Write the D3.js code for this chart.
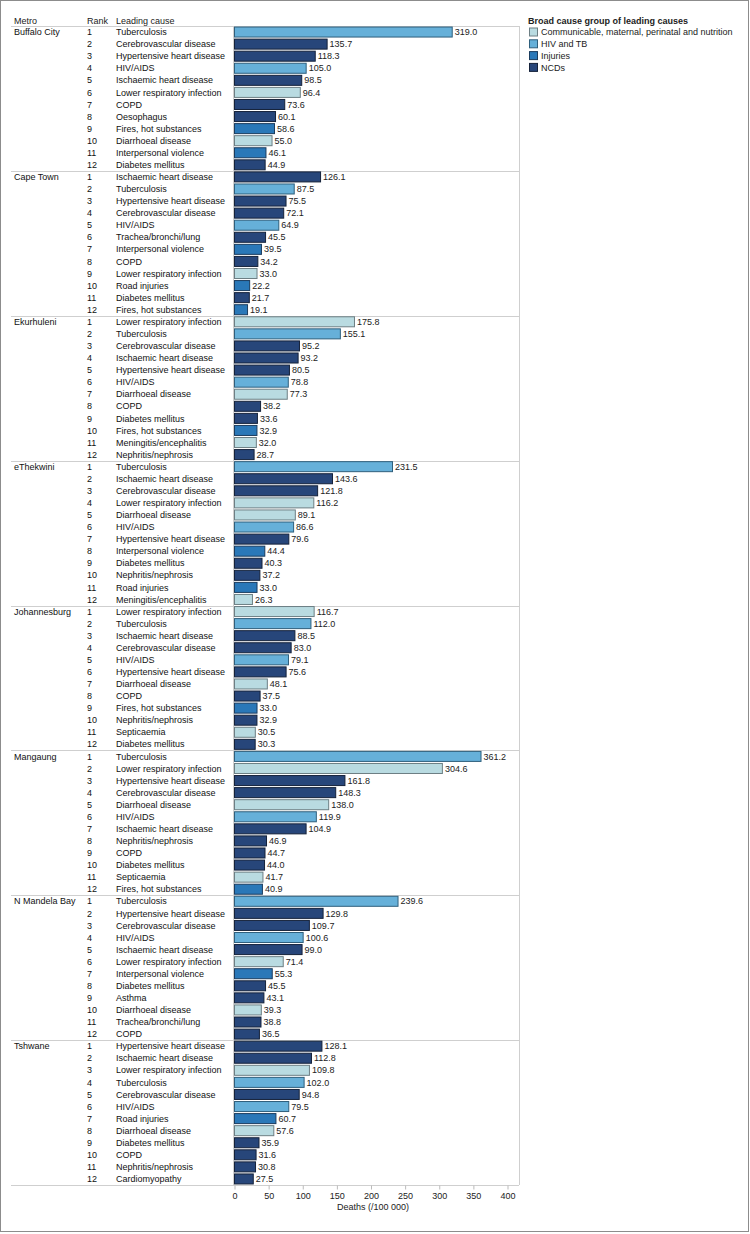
<!DOCTYPE html>
<html>
<head>
<meta charset="utf-8">
<script src="https://cdn.jsdelivr.net/npm/d3@7"></script>
<style>
  html, body { margin: 0; padding: 0; background: #fff; }
  svg { display: block; font-family: "Liberation Sans", Arial, sans-serif; }
</style>
</head>
<body>
<div id="viz"></div>
<script>
// metros, in display order
const metros = ['Buffalo City','Cape Town','Ekurhuleni','eThekwini','Johannesburg','Mangaung','N Mandela Bay','Tshwane'];

// leading causes per metro (rank 1..12)
const causes = [
  ['Tuberculosis','Cerebrovascular disease','Hypertensive heart disease','HIV/AIDS','Ischaemic heart disease','Lower respiratory infection','COPD','Oesophagus','Fires, hot substances','Diarrhoeal disease','Interpersonal violence','Diabetes mellitus'],
  ['Ischaemic heart disease','Tuberculosis','Hypertensive heart disease','Cerebrovascular disease','HIV/AIDS','Trachea/bronchi/lung','Interpersonal violence','COPD','Lower respiratory infection','Road injuries','Diabetes mellitus','Fires, hot substances'],
  ['Lower respiratory infection','Tuberculosis','Cerebrovascular disease','Ischaemic heart disease','Hypertensive heart disease','HIV/AIDS','Diarrhoeal disease','COPD','Diabetes mellitus','Fires, hot substances','Meningitis/encephalitis','Nephritis/nephrosis'],
  ['Tuberculosis','Ischaemic heart disease','Cerebrovascular disease','Lower respiratory infection','Diarrhoeal disease','HIV/AIDS','Hypertensive heart disease','Interpersonal violence','Diabetes mellitus','Nephritis/nephrosis','Road injuries','Meningitis/encephalitis'],
  ['Lower respiratory infection','Tuberculosis','Ischaemic heart disease','Cerebrovascular disease','HIV/AIDS','Hypertensive heart disease','Diarrhoeal disease','COPD','Fires, hot substances','Nephritis/nephrosis','Septicaemia','Diabetes mellitus'],
  ['Tuberculosis','Lower respiratory infection','Hypertensive heart disease','Cerebrovascular disease','Diarrhoeal disease','HIV/AIDS','Ischaemic heart disease','Nephritis/nephrosis','COPD','Diabetes mellitus','Septicaemia','Fires, hot substances'],
  ['Tuberculosis','Hypertensive heart disease','Cerebrovascular disease','HIV/AIDS','Ischaemic heart disease','Lower respiratory infection','Interpersonal violence','Diabetes mellitus','Asthma','Diarrhoeal disease','Trachea/bronchi/lung','COPD'],
  ['Hypertensive heart disease','Ischaemic heart disease','Lower respiratory infection','Tuberculosis','Cerebrovascular disease','HIV/AIDS','Road injuries','Diarrhoeal disease','Diabetes mellitus','COPD','Nephritis/nephrosis','Cardiomyopathy']
];

// deaths per 100 000
const deaths = [
  [319.0,135.7,118.3,105.0,98.5,96.4,73.6,60.1,58.6,55.0,46.1,44.9],
  [126.1,87.5,75.5,72.1,64.9,45.5,39.5,34.2,33.0,22.2,21.7,19.1],
  [175.8,155.1,95.2,93.2,80.5,78.8,77.3,38.2,33.6,32.9,32.0,28.7],
  [231.5,143.6,121.8,116.2,89.1,86.6,79.6,44.4,40.3,37.2,33.0,26.3],
  [116.7,112.0,88.5,83.0,79.1,75.6,48.1,37.5,33.0,32.9,30.5,30.3],
  [361.2,304.6,161.8,148.3,138.0,119.9,104.9,46.9,44.7,44.0,41.7,40.9],
  [239.6,129.8,109.7,100.6,99.0,71.4,55.3,45.5,43.1,39.3,38.8,36.5],
  [128.1,112.8,109.8,102.0,94.8,79.5,60.7,57.6,35.9,31.6,30.8,27.5]
];

// broad cause groups
const groups = ['Communicable, maternal, perinatal and nutrition','HIV and TB','Injuries','NCDs'];
const groupColors = ['#b9dbe1','#66b0d9','#2a78b8','#27467a'];
const groupStrokes = ['#6d7f84','#2f5f7c','#1b3c5e','#15223a'];

const causeGroup = {
  'Tuberculosis':'HIV and TB', 'HIV/AIDS':'HIV and TB',
  'Lower respiratory infection':'Communicable, maternal, perinatal and nutrition',
  'Diarrhoeal disease':'Communicable, maternal, perinatal and nutrition',
  'Meningitis/encephalitis':'Communicable, maternal, perinatal and nutrition',
  'Septicaemia':'Communicable, maternal, perinatal and nutrition',
  'Fires, hot substances':'Injuries', 'Interpersonal violence':'Injuries', 'Road injuries':'Injuries'
};
const groupOf = c => causeGroup[c] || 'NCDs';

const xTicks = [0,50,100,150,200,250,300,350,400];

// flat rows
const rows = [];
metros.forEach((m, mi) => {
  causes[mi].forEach((c, ci) => {
    rows.push({ metro: m, rank: ci + 1, cause: c, value: deaths[mi][ci], key: m + '|' + (ci + 1) });
  });
});

const W = 750, H = 1234;
const paneTop = 26, paneBottom = 1185, paneLeft = 11, plotLeft = 233, plotRight = 519;

const svg = d3.select('#viz').append('svg').attr('width', W).attr('height', H);

// outer frame
svg.append('rect').attr('x',0.5).attr('y',0.5).attr('width',W-2).attr('height',H-3)
  .attr('fill','none').attr('stroke','#8c8c8c').attr('stroke-width',1);

const y = d3.scaleBand().domain(rows.map(d => d.key)).range([paneTop, paneBottom]).paddingInner(0.17).paddingOuter(0.085);
const x = d3.scaleLinear().domain([0, 400]).range([plotLeft + 1.5, 507.5]);
const color = d3.scaleOrdinal().domain(groups).range(groupColors);
const strokeC = d3.scaleOrdinal().domain(groups).range(groupStrokes);
const rowH = (paneBottom - paneTop) / rows.length;
const rowMid = d => y(d.key) + y.bandwidth() / 2;

// header
const header = svg.append('g').attr('font-size', 9).attr('fill', '#222');
header.append('text').attr('x', 14).attr('y', 23.5).text('Metro');
header.append('text').attr('x', 87).attr('y', 23.5).text('Rank');
header.append('text').attr('x', 116).attr('y', 23.5).text('Leading cause');

// pane lines
const lines = svg.append('g').attr('stroke', '#cfcfcf').attr('stroke-width', 1).attr('shape-rendering','crispEdges');
d3.range(metros.length + 1).forEach(i => {
  const yy = Math.round(paneTop + i * 12 * rowH) + 0.5;
  lines.append('line').attr('x1', paneLeft).attr('x2', plotRight).attr('y1', yy).attr('y2', yy);
});
lines.append('line').attr('x1', plotLeft + 0.5).attr('x2', plotLeft + 0.5).attr('y1', paneTop).attr('y2', paneBottom);
lines.append('line').attr('x1', plotRight + 0.5).attr('x2', plotRight + 0.5).attr('y1', paneTop).attr('y2', paneBottom);

// row labels
const labels = svg.append('g').attr('font-size', 9).attr('fill', '#111');
labels.selectAll('text.metro').data(rows.filter(d => d.rank === 1)).join('text')
  .attr('class','metro').attr('x', 14).attr('y', d => rowMid(d)).attr('dy','0.35em').text(d => d.metro);
labels.selectAll('text.rank').data(rows).join('text')
  .attr('class','rank').attr('x', 87).attr('y', d => rowMid(d)).attr('dy','0.35em').text(d => d.rank);
labels.selectAll('text.cause').data(rows).join('text')
  .attr('class','cause').attr('x', 116).attr('y', d => rowMid(d)).attr('dy','0.35em').text(d => d.cause);

// bars
const bars = svg.append('g');
bars.selectAll('rect').data(rows).join('rect')
  .attr('x', x(0))
  .attr('y', d => y(d.key))
  .attr('width', d => x(d.value) - x(0))
  .attr('height', y.bandwidth())
  .attr('fill', d => color(groupOf(d.cause)))
  .attr('stroke', d => strokeC(groupOf(d.cause)))
  .attr('stroke-width', 1);

bars.selectAll('text').data(rows).join('text')
  .attr('x', d => x(d.value) + 2.5)
  .attr('y', d => rowMid(d))
  .attr('dy', '0.35em')
  .attr('font-size', 9).attr('fill', '#222')
  .text(d => d3.format('.1f')(d.value));

// axis
const axis = svg.append('g').attr('transform', `translate(0,${paneBottom + 0.5})`)
  .call(d3.axisBottom(x).tickValues(xTicks).tickSize(4).tickPadding(3));
axis.select('.domain').remove();
axis.selectAll('.tick line').attr('stroke', '#bbb');
axis.selectAll('.tick text').attr('font-size', 9).attr('fill', '#222')
  .attr('font-family', '"Liberation Sans", Arial, sans-serif');
svg.append('text').attr('x', (x(0) + x(400)) / 2 + 2).attr('y', 1210)
  .attr('text-anchor', 'middle').attr('font-size', 9).attr('fill', '#222').text('Deaths (/100 000)');

// legend
const legend = svg.append('g').attr('transform', 'translate(528,0)');
legend.append('text').attr('x', 0).attr('y', 23.5).attr('font-size', 9).attr('font-weight', 'bold')
  .attr('fill', '#222').text('Broad cause group of leading causes');
const li = legend.selectAll('g.item').data(groups).join('g').attr('class','item')
  .attr('transform', (d, i) => `translate(0,${32 + i * 11.8})`);
li.append('rect').attr('x', 1.5).attr('y', -4).attr('width', 8).attr('height', 8)
  .attr('fill', d => color(d)).attr('stroke', d => strokeC(d));
li.append('text').attr('x', 13).attr('y', 0).attr('dy', '0.35em').attr('font-size', 9)
  .attr('fill', '#222').text(d => d);
</script>
</body>
</html>
